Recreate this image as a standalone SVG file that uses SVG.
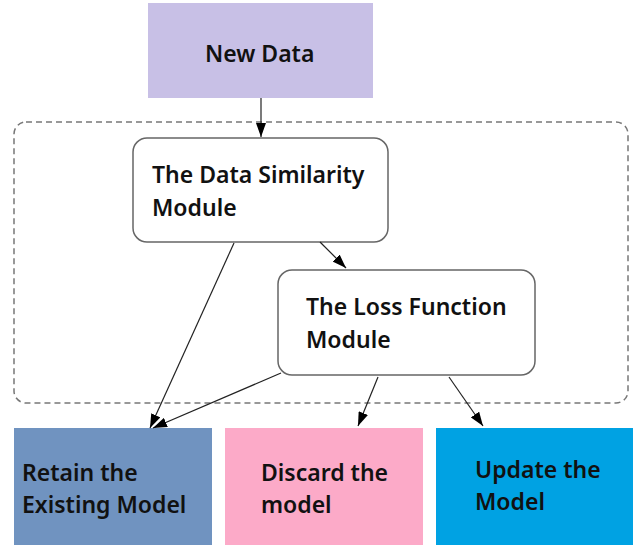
<svg xmlns="http://www.w3.org/2000/svg" width="641" height="547" viewBox="0 0 641 547">
<defs>
<marker id="ah" viewBox="0 0 14 10" refX="14" refY="5" markerWidth="14" markerHeight="10" markerUnits="userSpaceOnUse" orient="auto">
<path d="M0,0 L14,5 L0,10 z" fill="#000"/>
</marker>
</defs>
<style>
text{font-family:"Noto Sans","Open Sans",sans-serif;font-size:23px;fill:#111;font-weight:600}
.rr{fill:#fff;stroke:#666;stroke-width:1.5}
.c{fill:none;stroke:#222;stroke-width:1.2;marker-end:url(#ah)}
</style>
<rect x="14" y="122" width="614" height="281" rx="12" fill="none" stroke="#777" stroke-width="1.5" stroke-dasharray="6,4"/>
<g id="new-data">
<rect x="148" y="3" width="225" height="95" fill="#c8c0e6"/>
<text x="205" y="62">New Data</text>
</g>
<g id="similarity">
<rect class="rr" x="133" y="138" width="255" height="104" rx="14"/>
<text x="152" y="183">The Data Similarity</text>
<text x="152" y="216">Module</text>
</g>
<g id="loss">
<rect class="rr" x="278" y="270" width="257" height="105" rx="14"/>
<text x="306" y="315">The Loss Function</text>
<text x="306" y="348">Module</text>
</g>
<g id="retain">
<rect x="14" y="428" width="198" height="117" fill="#7093c0"/>
<text x="22" y="481">Retain the</text>
<text x="22" y="513">Existing Model</text>
</g>
<g id="discard">
<rect x="225" y="428" width="198" height="117" fill="#fcaac8"/>
<text x="261" y="481">Discard the</text>
<text x="261" y="513">model</text>
</g>
<g id="update">
<rect x="436" y="428" width="197" height="117" fill="#00a2e3"/>
<text x="475" y="478">Update the</text>
<text x="475" y="510">Model</text>
</g>
<g id="connectors">
<line class="c" x1="261" y1="98" x2="261" y2="137"/>
<line class="c" x1="320" y1="242" x2="346" y2="268"/>
<line class="c" x1="234" y1="243" x2="150" y2="428"/>
<line class="c" x1="281" y1="373" x2="153" y2="428"/>
<line class="c" x1="378" y1="377" x2="358" y2="426"/>
<line class="c" x1="449" y1="377" x2="483" y2="426"/>
</g>
</svg>
